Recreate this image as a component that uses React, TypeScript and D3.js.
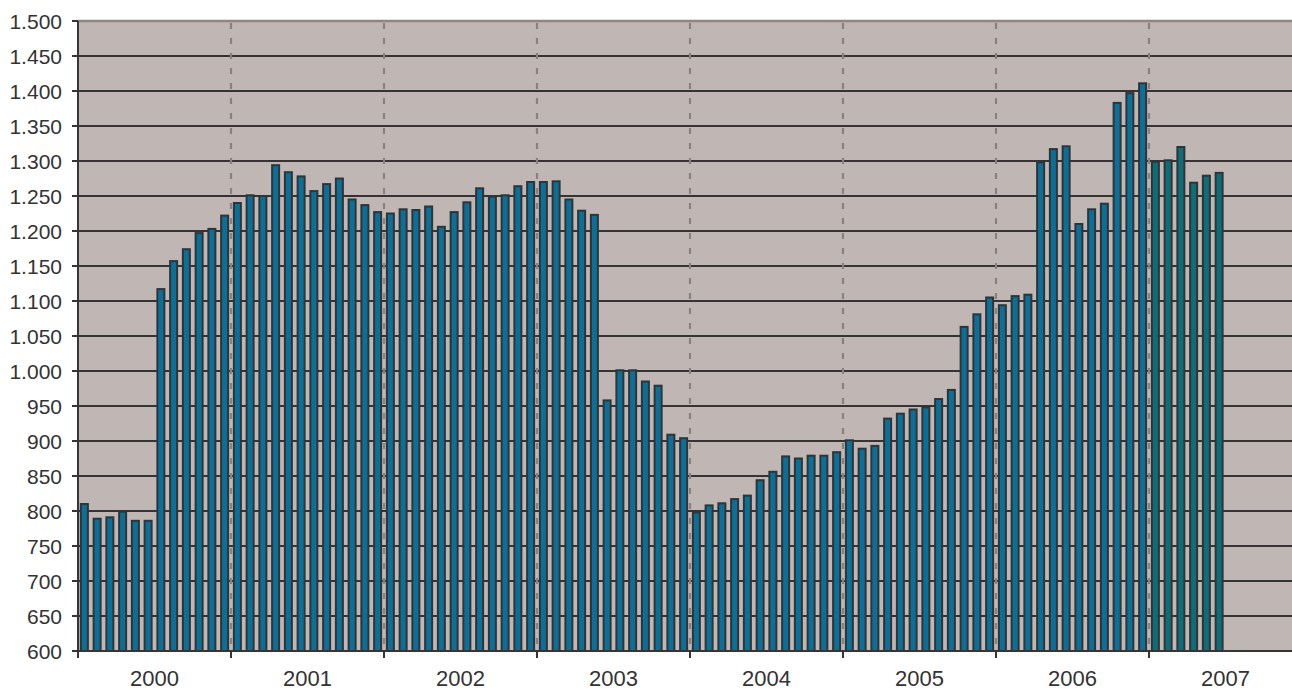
import React from "react";
import * as d3 from "d3";

const years = [2000, 2001, 2002, 2003, 2004, 2005, 2006, 2007];
const v2000 = [810, 789, 791, 799, 786, 786, 1117, 1157, 1174, 1197, 1203, 1222];
const v2001 = [1240, 1251, 1250, 1294, 1284, 1278, 1257, 1267, 1275, 1245, 1237, 1227];
const v2002 = [1225, 1231, 1230, 1235, 1206, 1227, 1241, 1261, 1249, 1251, 1264, 1270];
const v2003 = [1270, 1271, 1245, 1229, 1223, 958, 1001, 1001, 985, 979, 909, 904];
const v2004 = [798, 808, 811, 817, 822, 844, 856, 878, 875, 879, 879, 884];
const v2005 = [901, 889, 893, 932, 939, 945, 948, 960, 973, 1063, 1081, 1105];
const v2006 = [1094, 1107, 1109, 1298, 1317, 1321, 1210, 1231, 1239, 1383, 1397, 1411];
const v2007 = [1299, 1301, 1320, 1269, 1279, 1283];
const seriesByYear = [v2000, v2001, v2002, v2003, v2004, v2005, v2006, v2007];
const yTicks = d3.range(600, 1501, 50);

const W = 1292;
const H = 691;
const left = 78;
const top = 21;
const bottom = 651;
const rightEnd = 1302;

const locale = d3.formatLocale({ decimal: ",", thousands: ".", grouping: [3], currency: ["", ""] });
const fmt = locale.format(",d");

export default function App() {
  const x = d3.scaleLinear().domain([2000, 2008]).range([left, rightEnd]);
  const y = d3.scaleLinear().domain([600, 1500]).range([bottom, top]);
  const barW = 7;

  const bars: { key: string; cx: number; v: number; color: string }[] = [];
  seriesByYear.forEach((arr, yi) => {
    arr.forEach((v, m) => {
      bars.push({
        key: `${years[yi]}-${m}`,
        cx: x(years[yi] + (m + 0.5) / 12),
        v,
        color: years[yi] === 2007 ? "#0b6f7b" : "#08709a",
      });
    });
  });

  const font = "'Liberation Sans', Arial, Helvetica, sans-serif";

  return (
    <svg
      width={W}
      height={H}
      style={{ position: "fixed", left: 0, top: 0, display: "block", background: "#fff" }}
    >
      <rect x={left} y={top} width={rightEnd - left} height={bottom - top} fill="#c0b6b3" />
      {yTicks.filter((t) => t !== 600 && t !== 1500).map((t) => (
        <line key={t} x1={left} x2={rightEnd} y1={y(t)} y2={y(t)} stroke="#353333" strokeWidth={2} />
      ))}
      {years.slice(1).map((yr) => (
        <line
          key={yr}
          x1={x(yr)}
          x2={x(yr)}
          y1={top}
          y2={bottom}
          stroke="#8c807e"
          strokeWidth={2.2}
          strokeDasharray="6,9"
          strokeDashoffset={-2}
        />
      ))}
      <line x1={left} x2={rightEnd} y1={top} y2={top} stroke="#8f8583" strokeWidth={2.5} />
      {bars.map((b) => (
        <rect
          key={b.key}
          x={b.cx - barW / 2}
          y={y(b.v)}
          width={barW}
          height={bottom - y(b.v)}
          fill={b.color}
          stroke="#333333"
          strokeWidth={2}
        />
      ))}
      <line x1={left} x2={rightEnd} y1={bottom} y2={bottom} stroke="#353535" strokeWidth={2} />
      <line x1={left} x2={left} y1={top} y2={bottom + 1} stroke="#353535" strokeWidth={2} />
      {yTicks.map((t) => (
        <g key={t}>
          <line x1={left - 6} x2={left} y1={y(t)} y2={y(t)} stroke="#353535" strokeWidth={2} />
          <text
            x={62}
            y={y(t)}
            dy="0.36em"
            textAnchor="end"
            fontFamily={font}
            fontSize={21}
            fill="#333"
          >
            {fmt(t)}
          </text>
        </g>
      ))}
      {years.map((yr) => (
        <line key={"t" + yr} x1={x(yr)} x2={x(yr)} y1={bottom} y2={bottom + 7} stroke="#353535" strokeWidth={2} />
      ))}
      {years.map((yr) => (
        <text
          key={"l" + yr}
          x={x(yr + 0.5)}
          y={686}
          textAnchor="middle"
          fontFamily={font}
          fontSize={22}
          fill="#333"
        >
          {yr}
        </text>
      ))}
    </svg>
  );
}
